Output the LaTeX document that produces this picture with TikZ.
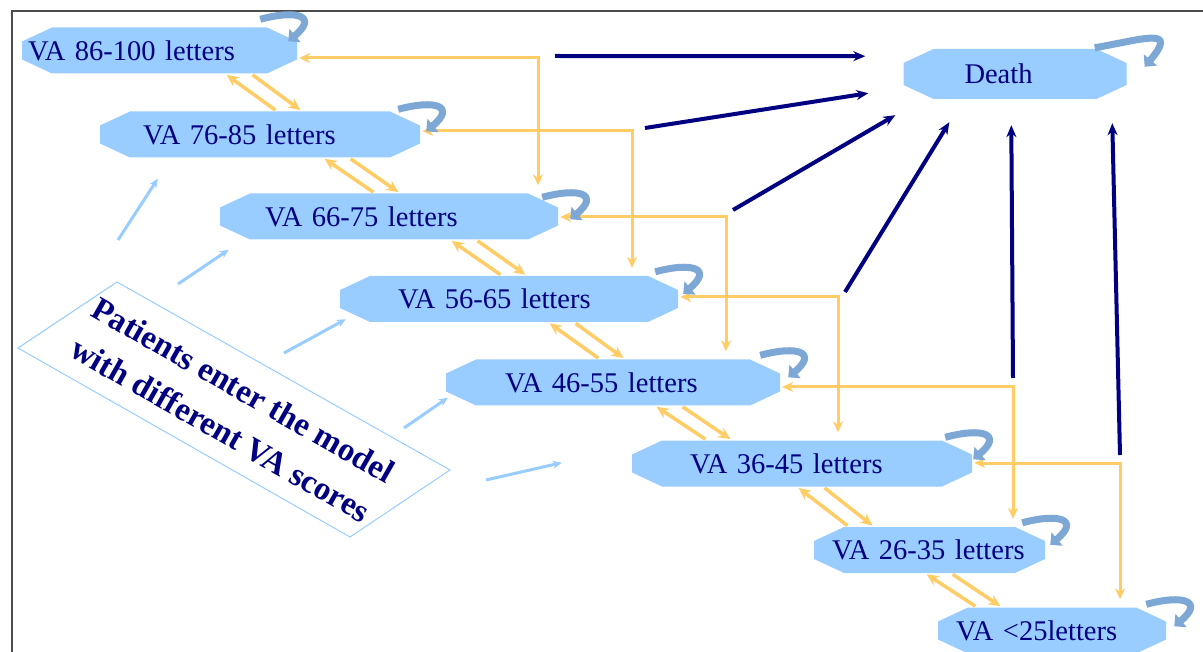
\documentclass[tikz,border=0pt]{standalone}
\usepackage{fontspec}
\setmainfont{Liberation Serif}
\usetikzlibrary{arrows.meta}

\definecolor{vafill}{HTML}{99CCFF}
\definecolor{vatext}{HTML}{000080}
\definecolor{vaorange}{HTML}{FFCC66}
\definecolor{loopblue}{HTML}{7DA8D5}
\def\vafont{\fontsize{28.5}{30}\selectfont}

\begin{document}
\begin{tikzpicture}[x=1pt,y=1pt,
    va node/.style={rectangle,text=vatext,font=\vafont,align=left,minimum height=46pt,inner ysep=0pt,
      path picture={\fill[vafill] ([xshift=30pt]path picture bounding box.north west)
        -- ([xshift=-30pt]path picture bounding box.north east) -- ([yshift=-14pt]path picture bounding box.north east)
        -- ([yshift=14pt]path picture bounding box.south east) -- ([xshift=-30pt]path picture bounding box.south east)
        -- ([xshift=30pt]path picture bounding box.south west) -- ([yshift=14pt]path picture bounding box.south west)
        -- ([yshift=-14pt]path picture bounding box.north west) -- cycle;}},
    move/.style={draw=vaorange,line width=3.5pt,->,>={Stealth[length=12pt,width=11pt]},shorten >=2pt,shorten <=2pt},
    jump/.style={draw=vaorange,line width=3pt,<->,>={Stealth[length=11pt,width=10pt]},shorten >=8pt,shorten <=2pt},
    to death/.style={draw=vatext,line width=4pt,->,>={Stealth[length=12pt,width=10pt]}},
    entry/.style={draw=vafill,line width=3pt,->,>={Stealth[length=9pt,width=8pt]}},
    self loop/.style={draw=loopblue,line width=7pt,-{Triangle[length=9pt,width=17pt]}}]

  \useasboundingbox (0,0) rectangle (1203,-652);
  \draw[gray!60!black,line width=1.5pt] (12,-652) -- (12,-11) -- (1203,-11);

  % states
  \node[va node,minimum width=275pt,text width=263pt,inner xsep=6pt] (n1) at (159.5,-50.5) {VA 86-100 letters};
  \node[va node,minimum width=320pt,text width=234pt,inner xsep=43pt] (n2) at (260,-134.5) {VA 76-85 letters};
  \node[va node,minimum width=338pt,text width=248pt,inner xsep=45pt] (n3) at (389,-216.5) {VA 66-75 letters};
  \node[va node,minimum width=338pt,text width=222pt,inner xsep=58pt] (n4) at (509,-299) {VA 56-65 letters};
  \node[va node,minimum width=334pt,text width=216pt,inner xsep=59pt] (n5) at (613,-382.5) {VA 46-55 letters};
  \node[va node,minimum width=340pt,text width=224pt,inner xsep=58pt] (n6) at (802,-463.5) {VA 36-45 letters};
  \node[va node,minimum width=231pt,text width=195pt,inner xsep=18pt] (n7) at (929.5,-550) {VA 26-35 letters};
  \node[va node,minimum width=228pt,text width=192pt,inner xsep=18pt] (n8) at (1052,-630.5) {VA <25letters};
  \node[va node,minimum width=223pt,minimum height=50pt,text width=101pt,inner xsep=61pt] (death) at (1015,-74) {Death};

  % entry box
  \draw[draw=vafill,line width=1pt] (18,-348) -- (117,-282) -- (450,-470) -- (350,-537) -- cycle;
  \node[rotate=-29.7,align=center,text=vatext,font=\bfseries\fontsize{33}{46}\selectfont] (enter) at (232,-410)
    {Patients enter the model\\with different VA scores};

  \foreach \n/\sx/\sy/\dx/\dy in {n2/118/240/58/-21,n3/178/284/9/-10,n4/284/353/6/3,n5/404/428/2/8,n6/486/480/-70/24}
    \draw[entry] (\sx,-\sy) coordinate (\n in) -- ([shift={(\dx,\dy)}]\n.south west);

  % neighbour moves
  \foreach \a/\b/\u in {n1/n2/225,n2/n3/323,n3/n4/450,n4/n5/548,n5/n6/655,n6/n7/797,n7/n8/925}{
    \draw[move] (\u+52,0 |- \b.north) -- (\u,0 |- \a.south);
    \draw[move] (\u+26,0 |- \a.south) -- (\u+77,0 |- \b.north);
  }

  % two-step moves
  \foreach \a/\b/\y/\x in {n1/n3/58/538,n2/n4/131/632,n3/n5/217/726,n4/n6/297/838,n5/n7/387/1013,n6/n8/463/1120}
    \draw[jump] (\a.east |- 0,-\y) -| (\x,0 |- \b.north);

  % death
  \foreach \n/\sx/\sy/\dx/\dy in {n1/555/56/-38/43,n2/645/128/-35/6,n3/733/210/-8/-16,n4/845/292/46/-23,n5/1013/378/108/-26,n6/1120/455/209/-24}
    \draw[to death] (\sx,-\sy) coordinate (\n out) -- ([shift={(\dx,\dy)}]death.south west);

  % stay
  \foreach \n/\dx/\dy in {n1/-37/8,n2/-22/2,n3/-16/-4,n4/-23/4,n5/-20/4,n6/-27/3,n7/-23/4,n8/-20/3}
    \draw[self loop] ([shift={(\dx,\dy)}]\n.north east) to[out=15,in=40,looseness=2.8] ([shift={(\dx+28,\dy-22)}]\n.north east);
  \draw[self loop] ([shift={(-32,1)}]death.north east) to[out=10,in=50,looseness=2.5] ([shift={(18,-18)}]death.north east);
\end{tikzpicture}
\end{document}
